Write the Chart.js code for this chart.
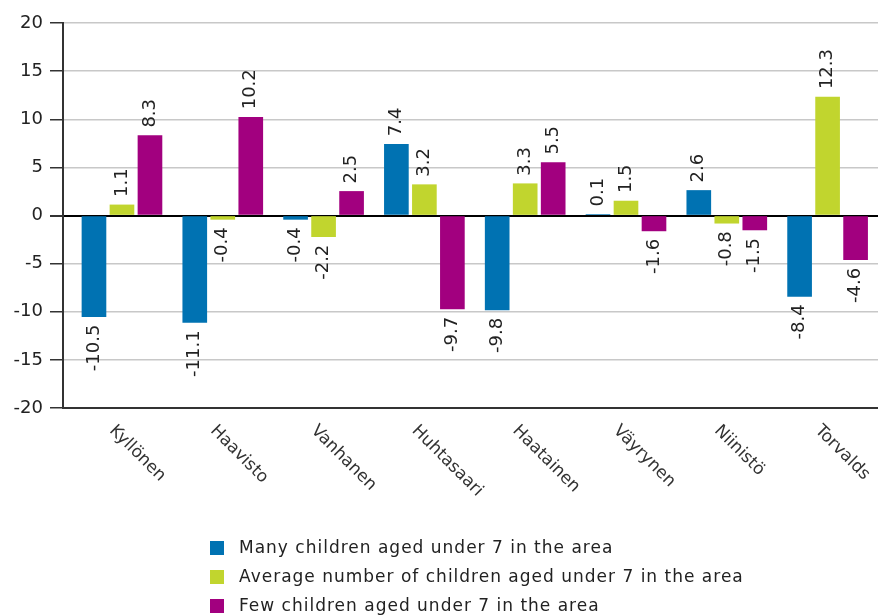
<!DOCTYPE html>
<html>
<head>
<meta charset="utf-8">
<script src="https://cdn.jsdelivr.net/npm/chart.js@4.4.1/dist/chart.umd.min.js"></script>
<style>
    html, body { margin: 0; padding: 0; background: #fff; overflow: hidden; }
</style>
</head>
<body>
<canvas id="myChart" width="878" height="616"></canvas>
<script>
const candidates = ['Kyllönen', 'Haavisto', 'Vanhanen', 'Huhtasaari', 'Haatainen', 'Väyrynen', 'Niinistö', 'Torvalds'];
const seriesNames = [
    'Many children aged under 7 in the area',
    'Average number of children aged under 7 in the area',
    'Few children aged under 7 in the area'
];
const manyKids = [-10.5, -11.1, -0.4, 7.4, -9.8, 0.1, 2.6, -8.4];
const averageKids = [1.1, -0.4, -2.2, 3.2, 3.3, 1.5, -0.8, 12.3];
const fewKids = [8.3, 10.2, 2.5, -9.7, 5.5, -1.6, -1.5, -4.6];
const yMin = -20;
const yMax = 20;
const yStep = 5;

const colors = ['#0072b2', '#c1d52e', '#a2007f'];
const textFont = '"DejaVu Sans", Verdana, sans-serif';

// category index -> {x, y} so the bars can sit on a linear x axis
const toPoints = (values) => values.map((v, i) => ({ x: i, y: v }));

const valueLabels = {
    id: 'valueLabels',
    afterDatasetsDraw(chart) {
        const ctx = chart.ctx;
        ctx.save();
        ctx.font = '18px ' + textFont;
        ctx.fillStyle = '#222';
        ctx.textBaseline = 'middle';
        chart.data.datasets.forEach((ds, di) => {
            chart.getDatasetMeta(di).data.forEach((bar, i) => {
                const v = ds.data[i].y;
                const neg = v < 0;
                ctx.save();
                ctx.translate(bar.x, neg ? bar.y + 8 : bar.y - 8);
                ctx.rotate(-Math.PI / 2);
                ctx.textAlign = neg ? 'right' : 'left';
                ctx.fillText(v.toFixed(1), 0, 0);
                ctx.restore();
            });
        });
        ctx.restore();
    }
};

const categoryLabels = {
    id: 'categoryLabels',
    afterDraw(chart) {
        const { ctx, chartArea } = chart;
        const x = chart.scales.x;
        ctx.save();
        ctx.font = '17px ' + textFont;
        ctx.fillStyle = '#333';
        ctx.textAlign = 'left';
        ctx.textBaseline = 'top';
        candidates.forEach((name, i) => {
            ctx.save();
            ctx.translate(x.getPixelForValue(i) - 4, chartArea.bottom + 14);
            ctx.rotate(Math.PI / 4);
            ctx.fillText(name, 0, 0);
            ctx.restore();
        });
        ctx.restore();
    }
};

const stackedLegend = {
    id: 'stackedLegend',
    afterDraw(chart) {
        const { ctx, chartArea } = chart;
        const boxSize = 14, gap = 15, rowHeight = 29;
        ctx.save();
        ctx.font = '17px ' + textFont;
        ctx.letterSpacing = '1px';
        const widths = chart.data.datasets.map(ds => ctx.measureText(ds.label).width);
        const blockWidth = boxSize + gap + Math.max(...widths);
        const left = Math.round((chartArea.left + chartArea.right - blockWidth) / 2) + 6;
        const firstRow = chartArea.bottom + 140;
        ctx.textAlign = 'left';
        ctx.textBaseline = 'middle';
        chart.data.datasets.forEach((ds, i) => {
            const cy = firstRow + i * rowHeight;
            ctx.fillStyle = ds.backgroundColor;
            ctx.fillRect(left, cy - boxSize / 2, boxSize, boxSize);
            ctx.fillStyle = '#222';
            ctx.fillText(ds.label, left + boxSize + gap, cy + 1);
        });
        ctx.restore();
    }
};

const ctx = document.getElementById('myChart');

const data = {
    datasets: [manyKids, averageKids, fewKids].map((values, i) => ({
        label: seriesNames[i],
        data: toPoints(values),
        backgroundColor: colors[i],
        borderWidth: 0
    }))
};

const options = {
    responsive: false,
    animation: false,
    layout: {
        padding: { top: 23, right: 0, bottom: 0, left: 0 }
    },
    plugins: {
        legend: { display: false },
        tooltip: { enabled: false }
    },
    datasets: {
        bar: {
            barThickness: 28,
            maxBarThickness: 24
        }
    },
    scales: {
        x: {
            type: 'linear',
            offset: false,
            min: -0.585,
            max: 7.5,
            grid: { display: false },
            ticks: { display: false },
            border: { display: true, color: '#333', width: 2 },
            afterFit: (scale) => { scale.height = 208; }
        },
        y: {
            min: yMin,
            max: yMax,
            ticks: {
                stepSize: yStep,
                color: '#222',
                padding: 7,
                font: { family: textFont, size: 18 }
            },
            grid: {
                color: (c) => c.tick && c.tick.value === 0 ? '#000' : '#c8c8c8',
                lineWidth: (c) => c.tick && c.tick.value === 0 ? 2 : 1.5,
                tickColor: '#333',
                tickLength: 13
            },
            border: { color: '#333', width: 2 },
            afterFit: (scale) => { scale.width = 63; }
        }
    }
};

new Chart(ctx, {
    type: 'bar',
    data: data,
    options: options,
    plugins: [valueLabels, categoryLabels, stackedLegend]
});
</script>
</body>
</html>
